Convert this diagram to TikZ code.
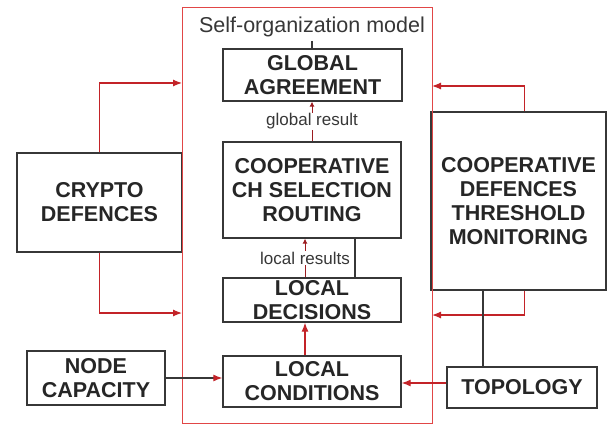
\documentclass[tikz,border=0pt]{standalone}
\usepackage{fontspec}
\setmainfont{Liberation Sans}
\usetikzlibrary{arrows.meta}

\definecolor{boxgray}{RGB}{55,55,55}
\definecolor{linkred}{RGB}{195,35,40}
\definecolor{framered}{RGB}{225,70,70}

\tikzset{
  block/.style={draw=boxgray, line width=1.3pt, fill=white, align=center, inner sep=0pt,
    font=\fontsize{21.5}{24}\selectfont\bfseries, text=black!85},
  redlink/.style={draw=linkred, line width=1.2pt, -{Latex[length=9pt,width=7pt]}},
  thinlink/.style={draw=linkred!80!black, line width=0.9pt, -{Latex[length=5pt,width=5pt]}},
  graylink/.style={draw=boxgray, line width=1.2pt},
  smalllabel/.style={fill=white, inner sep=1pt, font=\fontsize{17}{19}\selectfont, text=boxgray}
}

\begin{document}
\begin{tikzpicture}[x=1pt,y=-1pt]
\useasboundingbox (0,0) rectangle (615,425);

	\node (T) [anchor=base, font=\fontsize{21.5}{24}\selectfont, text=boxgray] at (312,33) {Self-organization model};

	\node (GA) [block, minimum width=179pt, minimum height=52pt] at (312.5,75) {GLOBAL\\AGREEMENT};
	\node (CR) [block, minimum width=178pt, minimum height=96pt] at (312,190) {COOPERATIVE\\CH SELECTION\\ROUTING};
	\node (LD) [block, minimum width=178pt, minimum height=44pt] at (312,300) {LOCAL\\DECISIONS};
	\node (LC) [block, minimum width=178pt, minimum height=51pt] at (312,381.5) {LOCAL\\CONDITIONS};

	\node (CD) [block, minimum width=165pt, minimum height=99pt] at (99.5,202.5) {CRYPTO\\DEFENCES};
	\node (NC) [block, minimum width=138pt, minimum height=54pt] at (96,378) {NODE\\CAPACITY};
	\node (CT) [block, minimum width=175pt, minimum height=178pt] at (518.5,201) {COOPERATIVE\\DEFENCES\\THRESHOLD\\MONITORING};
	\node (TP) [block, minimum width=150pt, minimum height=41pt] at (522,387.5) {TOPOLOGY};

	% frame of the model, drawn over the touching boxes
	\node (SO) [draw=framered, line width=0.9pt, minimum width=250pt, minimum height=416pt, inner sep=0pt] at (307,215) {};

	\coordinate (inCDa) at (182,83);
	\coordinate (inCDb) at (182,313);
	\coordinate (inCTa) at (432,86);
	\coordinate (inCTb) at (432,315);

	\draw[graylink] (T.south) -- (T.south |- GA.north);
	\draw[thinlink] (CR.north) -- node[smalllabel] (GR) {global result} (CR.north |- GA.south);
	\draw[thinlink] ([xshift=-7pt]LD.north) -- node[smalllabel] (LR) {local results} ([xshift=-7pt]CR.south);
	\draw[graylink] ([xshift=43pt]CR.south) -- ([xshift=43pt]CR.south |- LD.north);
	\draw[redlink] ([xshift=-7pt]LC.north) -- ([xshift=-7pt]LD.south);

	\draw[redlink] (CD.north) |- (inCDa);
	\draw[redlink] (CD.south) |- (inCDb);
	\draw[redlink] ([xshift=6pt]CT.north) |- (inCTa);
	\draw[redlink] ([xshift=6pt]CT.south) |- (inCTb);

	\draw[graylink] ([xshift=-39pt]TP.north) -- ([xshift=-39pt]TP.north |- CT.south);
	\draw[graylink, -{Latex[length=9pt,width=7pt,color=linkred]}] (NC.east) -- (NC.east -| LC.west);
	\draw[redlink] ([yshift=4.5pt]TP.west) -- ([yshift=4.5pt]TP.west -| LC.east);

\end{tikzpicture}
\end{document}
